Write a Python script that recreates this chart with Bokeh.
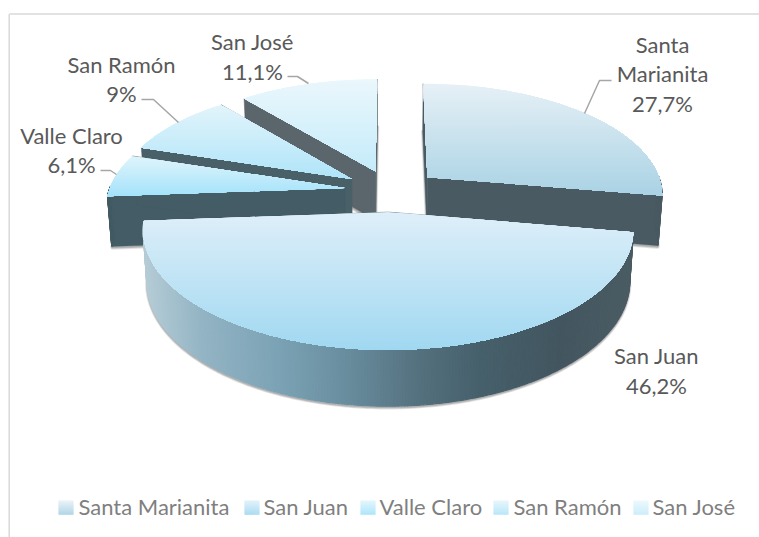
import numpy as np
from bokeh.plotting import figure
from bokeh.embed import file_html
from bokeh.resources import INLINE
from bokeh.core.properties import value

names = ["Santa Marianita", "San Juan", "Valle Claro", "San Ramón", "San José"]
values = [27.7, 46.2, 6.1, 9.0, 11.1]
pct_labels = ["27,7%", "46,2%", "6,1%", "9%", "11,1%"]
top_light = ["#e6f0f6", "#deeff9", "#dff4fb", "#e2f4fb", "#eaf7fc"]
top_dark = ["#a9d2e4", "#a0d8f1", "#a2e2fb", "#aee4f9", "#c4ebfa"]
wall_col = ["#4a5a62", "#3f5259", "#445c65", "#4a6068", "#5a666c"]
nudge_x = [3, 0, -1, -2, 0]

W, H = 759, 537
p = figure(width=W, height=H, x_range=(0, W), y_range=(H, 0),
           x_axis_type=None, y_axis_type=None, toolbar_location=None,
           output_backend="svg", min_border=0, outline_line_color=None,
           background_fill_color="white", border_fill_color="white")
p.xgrid.visible = False
p.ygrid.visible = False

CX, CY, A, B, K, E = 390.0, 190.0, 238.0, 110.7, 0.146, 0.19


def hexrgb(c):
    return np.array([int(c[i:i + 2], 16) for i in (1, 3, 5)], float)


def mix(c0, c1, t):
    v = hexrgb(c0) * (1 - t) + hexrgb(c1) * t
    return "#%02x%02x%02x" % tuple(int(round(a)) for a in v)


def proj(X, Z):
    s = 1 / (1 - K * Z)
    return CX + A * X * s, CY + B * Z * s, s


def bottom(x, y, s):
    return CX + (x - CX) * 0.985, y + 50 + 30 * (s - 1)


def clip_below(px, py, y0):
    ox, oy = [], []
    n = len(px)
    for i in range(n):
        a, b = (px[i], py[i]), (px[(i + 1) % n], py[(i + 1) % n])
        if a[1] >= y0:
            ox.append(a[0]); oy.append(a[1])
        if (a[1] >= y0) != (b[1] >= y0):
            t = (y0 - a[1]) / (b[1] - a[1])
            ox.append(a[0] + t * (b[0] - a[0])); oy.append(y0)
    return ox, oy


SIDE_X = [143, 200, 280, 340, 420, 480, 560, 640]
SIDE_C = ["#b5ccd6", "#93b4c4", "#7aa2b4", "#6a8fa0", "#54707e", "#46606b", "#435660", "#4c5d64"]


def side_color(x):
    for i in range(len(SIDE_X) - 1):
        if x <= SIDE_X[i + 1]:
            return mix(SIDE_C[i], SIDE_C[i + 1], max(0, (x - SIDE_X[i]) / (SIDE_X[i + 1] - SIDE_X[i])))
    return SIDE_C[-1]


fr = np.array(values) / sum(values)
edges = np.concatenate([[0], np.cumsum(fr)]) * 2 * np.pi
draw_order = [4, 3, 2, 0, 1]

for i in draw_order:
    t0, t1 = edges[i], edges[i + 1]
    mid = (t0 + t1) / 2
    ox, oz = E * np.sin(mid), -E * np.cos(mid)
    th = np.linspace(t0, t1, 260)
    tx, ty, ts = proj(ox + 0.99 * np.sin(th), oz - np.cos(th))
    ax, ay, asc = proj(ox, oz)
    tx = tx + nudge_x[i]
    ax = ax + nudge_x[i]
    bx, by = bottom(tx, ty, ts)
    abx, aby = bottom(ax, ay, asc)

    # soft shadow of the underside
    sx = [abx] + list(bx)
    sy = [aby + 1.5] + list(by + 1.5)
    p.patches([sx], [sy], fill_color="#000000", fill_alpha=0.10, line_color="#000000",
              line_alpha=0.11, line_width=3.5)
    p.patches([sx], [sy], fill_color="#000000", fill_alpha=0.0, line_color="#000000",
              line_alpha=0.16, line_width=1.8)

    # radial walls
    for j in (0, -1):
        p.patch([ax, tx[j], bx[j], abx], [ay, ty[j], by[j], aby],
                fill_color=wall_col[i], line_color=wall_col[i], line_width=0.5)

    # curved outer wall, only where it faces the viewer
    qx, qy, qc = [], [], []
    for k in range(len(th) - 1):
        if np.cos(th[k]) < 0.02:
            qx.append([tx[k], tx[k + 1], bx[k + 1], bx[k]])
            qy.append([ty[k], ty[k + 1], by[k + 1], by[k]])
            qc.append(side_color((tx[k] + tx[k + 1]) / 2) if i == 1 else wall_col[i])
    if qx:
        p.patches(qx, qy, fill_color=qc, line_color=qc, line_width=1.2)

    # top surface with vertical gradient, painted as overlapping bands
    px = [ax] + list(tx)
    py = [ay] + list(ty)
    y0, y1 = min(py), max(py)
    bands_x, bands_y, bands_c = [], [], []
    for y in np.arange(y0, y1, 1.5):
        cx_, cy_ = clip_below(px, py, y)
        if len(cx_) >= 3:
            bands_x.append(cx_); bands_y.append(cy_)
            bands_c.append(mix(top_light[i], top_dark[i], (y - y0) / (y1 - y0)))
    p.patches(bands_x, bands_y, fill_color=bands_c, line_color=None)

# chart frame
p.line([9, W], [13.5, 13.5], line_color="#d9d9d9", line_width=1.5)
p.line([8.7, 8.7], [13.5, H], line_color="#d9d9d9", line_width=1.5)

# leader lines
for lx, ly in [([287, 297, 308], [76, 76, 83]),
               ([141, 153, 178], [99, 99, 122]),
               ([100, 110, 116], [170, 170, 174]),
               ([611, 599, 584], [80, 80, 113])]:
    p.line(lx, ly, line_color="#a6a6a6", line_width=1.5)

# data labels
label_lines = {
    0: (["Santa", "Marianita", pct_labels[0]], 662, [44, 73, 103]),
    1: ([names[1], pct_labels[1]], 656, [355, 385]),
    2: ([names[2], pct_labels[2]], 71, [135, 164]),
    3: ([names[3], pct_labels[3]], 121, [64, 93]),
    4: ([names[4], pct_labels[4]], 252, [41, 71]),
}
for idx, (txt, lx, lys) in label_lines.items():
    p.text([lx] * len(txt), lys, text=txt, text_font=value("Lato"), text_font_size="22px",
           text_color="#595959", text_align="center", text_baseline="middle")

# legend
sw_x = [58, 244, 360, 493, 633]
tx_x = [78, 263, 379, 513, 652]
for i in range(5):
    ys = np.arange(500, 514, 1.0)
    colors = [mix(top_light[i], top_dark[i], (y - 500) / 13) for y in ys]
    p.quad(left=sw_x[i], right=sw_x[i] + 15, top=ys, bottom=ys + 1.2, fill_color=colors, line_color=None)
p.text(tx_x, [506] * 5, text=names, text_font=value("Lato"), text_font_size="22px",
       text_color="#7f7f7f", text_align="left", text_baseline="middle")

open("out.html", "w").write(file_html(p, INLINE))
